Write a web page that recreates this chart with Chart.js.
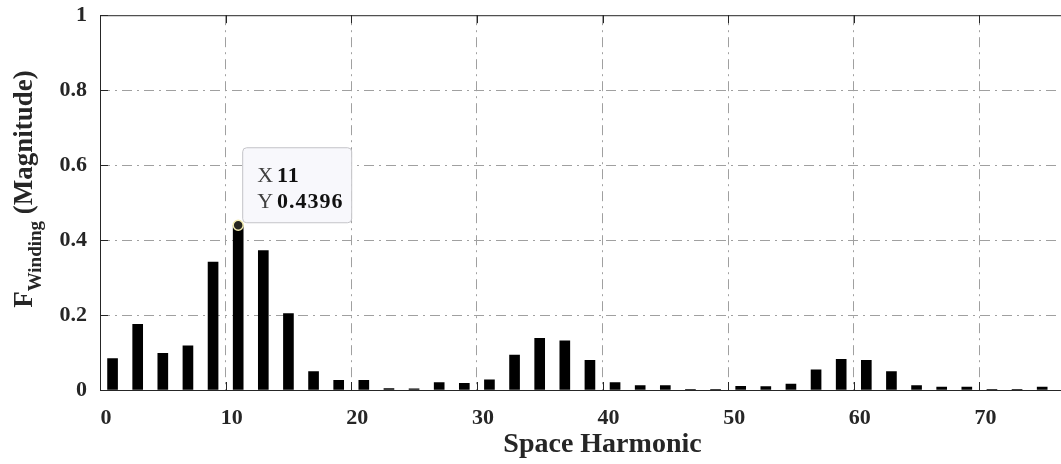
<!DOCTYPE html>
<html>
<head>
<meta charset="utf-8">
<script src="https://cdn.jsdelivr.net/npm/chart.js@4"></script>
<style>
  html, body { margin: 0; padding: 0; background: #fff; overflow: hidden; }
  #wrap { width: 1131px; height: 464px; overflow: hidden; }
  #chartData { margin-top: -11px; display: block; }
</style>
</head>
<body>
<div id="wrap"><canvas id="chartData" width="1131" height="475"></canvas></div>
<script>
// harmonic order and winding factor magnitude
const harmonics = [1, 3, 5, 7, 9, 11, 13, 15, 17, 19, 21, 23, 25, 27, 29, 31, 33, 35, 37, 39,
  41, 43, 45, 47, 49, 51, 53, 55, 57, 59, 61, 63, 65, 67, 69, 71, 73, 75]
const magnitudes = [0.084, 0.175, 0.098, 0.118, 0.341, 0.4396, 0.372, 0.204, 0.049, 0.026,
  0.026, 0.004, 0.003, 0.020, 0.018, 0.027, 0.093, 0.138, 0.131, 0.079,
  0.020, 0.012, 0.012, 0.002, 0.002, 0.010, 0.009, 0.016, 0.054, 0.082,
  0.079, 0.049, 0.012, 0.008, 0.008, 0.002, 0.002, 0.008]
const xTicks = [0, 10, 20, 30, 40, 50, 60, 70, 80]
const yTicks = [0, 0.2, 0.4, 0.6, 0.8, 1]
const tipHarmonic = 11

const serif = "'Liberation Serif', 'DejaVu Serif', serif"
const gridDash = [10, 5, 2, 5]

// frame, inward tick marks, y title with subscript, datatip
const decor = {
  id: 'decor',
  afterDraw(chart) {
    const ctx = chart.ctx
    const a = chart.chartArea
    const xs = chart.scales.x
    const ys = chart.scales.y
    ctx.save()
    ctx.strokeStyle = '#262626'
    ctx.lineWidth = 1
    ctx.strokeRect(a.left + 0.5, a.top + 0.5, a.right - a.left, a.bottom - a.top)
    ctx.beginPath()
    xTicks.forEach(v => {
      const px = Math.round(xs.getPixelForValue(v)) + 0.5
      ctx.moveTo(px, a.bottom); ctx.lineTo(px, a.bottom - 8)
      ctx.moveTo(px, a.top); ctx.lineTo(px, a.top + 8)
    })
    yTicks.forEach(v => {
      const py = Math.round(ys.getPixelForValue(v)) + 0.5
      ctx.moveTo(a.left, py); ctx.lineTo(a.left + 8, py)
    })
    ctx.stroke()

    // y axis title: F_Winding (Magnitude)
    ctx.fillStyle = '#262626'
    ctx.textBaseline = 'alphabetic'
    ctx.textAlign = 'left'
    const big = 'bold 27px ' + serif
    const small = 'bold 19px ' + serif
    ctx.font = big
    const wF = ctx.measureText('F').width
    const wM = ctx.measureText(' (Magnitude)').width
    ctx.font = small
    const wW = ctx.measureText('Winding').width
    const total = wF + wW + wM
    ctx.translate(32, 200)
    ctx.rotate(-Math.PI / 2)
    let t = -total / 2
    ctx.font = big
    ctx.fillText('F', t, 0); t += wF
    ctx.font = small
    ctx.fillText('Winding', t, 9); t += wW
    ctx.font = big
    ctx.fillText(' (Magnitude)', t, 0)
    ctx.restore()

    // datatip
    const i = harmonics.indexOf(tipHarmonic)
    const px = xs.getPixelForValue(harmonics[i])
    const py = ys.getPixelForValue(magnitudes[i])
    const bx = px + 4, by = py - 78, bw = 109, bh = 75
    ctx.save()
    ctx.beginPath()
    ctx.roundRect(bx + 0.5, by + 0.5, bw, bh, 4)
    ctx.fillStyle = '#f8f8fc'
    ctx.fill()
    ctx.strokeStyle = '#c4c4c8'
    ctx.lineWidth = 1
    ctx.stroke()
    ctx.textAlign = 'left'
    ctx.textBaseline = 'alphabetic'
    ctx.letterSpacing = '1px'
    ctx.font = '22px ' + serif
    ctx.fillStyle = '#404040'
    ctx.fillText('X', bx + 15, by + 35)
    ctx.fillText('Y', bx + 15, by + 61)
    const lx = bx + 15 + ctx.measureText('X').width + 3
    ctx.font = 'bold 22px ' + serif
    ctx.fillStyle = '#111'
    ctx.fillText(String(harmonics[i]), lx, by + 35)
    ctx.fillText(String(magnitudes[i]), lx, by + 61)
    ctx.letterSpacing = '0px'
    ctx.beginPath()
    ctx.arc(px, py, 5, 0, Math.PI * 2)
    ctx.fillStyle = '#262620'
    ctx.fill()
    ctx.strokeStyle = '#f3ecb0'
    ctx.lineWidth = 1.5
    ctx.stroke()
    ctx.restore()
  }
}

new Chart(document.getElementById('chartData'), {
  type: 'bar',
  data: {
    datasets: [{
      data: harmonics.map((h, i) => ({ x: h, y: magnitudes[i] })),
      backgroundColor: '#000',
      borderWidth: 0,
      barThickness: 10
    }]
  },
  options: {
    responsive: false,
    animation: false,
    events: [],
    layout: { padding: { top: 4, right: 3, left: 0, bottom: 0 } },
    plugins: { legend: { display: false }, tooltip: { enabled: false } },
    scales: {
      x: {
        type: 'linear',
        min: 0,
        max: 80,
        offset: false,
        afterFit: s => { s.height = 74 },
        afterBuildTicks: s => { s.ticks = xTicks.map(v => ({ value: v })) },
        grid: {
          offset: false,
          color: c => (c.tick && c.tick.value > 0 && c.tick.value < 80) ? '#a0a0a0' : 'rgba(0,0,0,0)',
          drawTicks: false
        },
        border: { display: false, dash: gridDash },
        ticks: {
          padding: 15,
          labelOffset: 6,
          maxRotation: 0,
          color: '#262626',
          callback: v => String(v),
          font: { family: serif, size: 22, weight: 'bold' }
        },
        title: {
          display: true,
          text: 'Space Harmonic',
          color: '#262626',
          padding: { top: 0, bottom: 2 },
          font: { family: serif, size: 28, weight: 'bold' }
        }
      },
      y: {
        min: 0,
        max: 1,
        afterFit: s => { s.width = 100 },
        afterBuildTicks: s => { s.ticks = yTicks.map(v => ({ value: v })) },
        grid: {
          color: c => (c.tick && c.tick.value > 0 && c.tick.value < 1) ? '#a0a0a0' : 'rgba(0,0,0,0)',
          drawTicks: false
        },
        border: { display: false, dash: gridDash },
        ticks: {
          padding: 13,
          color: '#262626',
          callback: v => String(v),
          font: { family: serif, size: 22, weight: 'bold' }
        }
      }
    }
  },
  plugins: [decor]
})
</script>
</body>
</html>
